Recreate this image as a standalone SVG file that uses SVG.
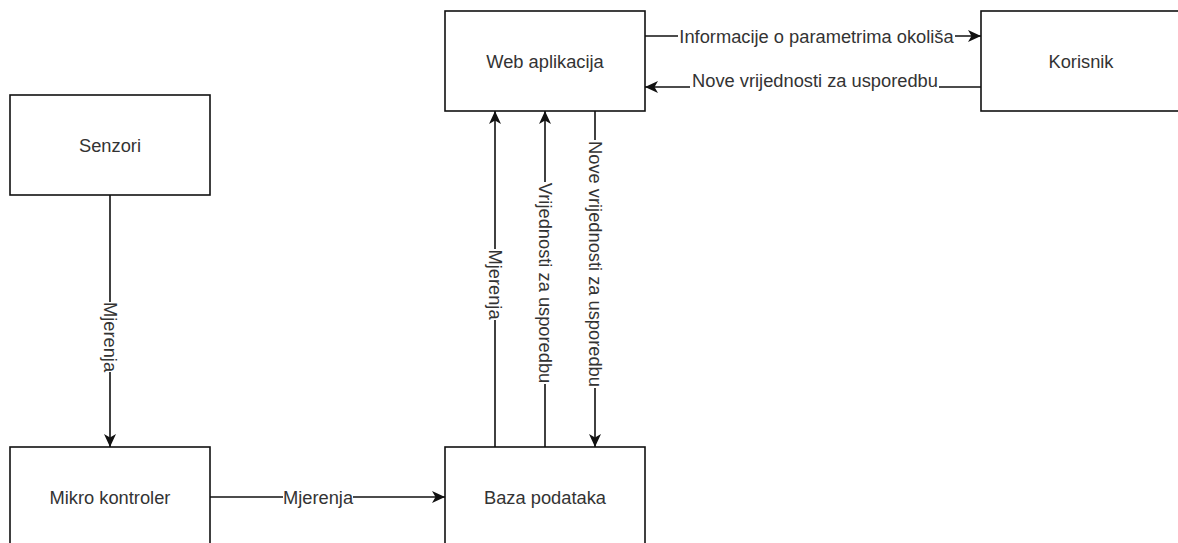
<svg xmlns="http://www.w3.org/2000/svg" width="1178" height="543" viewBox="0 0 1178 543">
  <style>
    .box { fill: #ffffff; stroke: #111111; stroke-width: 1.6; }
    .lbl { font-family: "Liberation Sans", Arial, sans-serif; font-size: 18.3px; fill: #333333; text-anchor: middle; dominant-baseline: central; }
    .edge { fill: none; stroke: #111111; stroke-width: 1.6; }
    .bg { fill: #ffffff; stroke: none; }
  </style>
  <defs>
    <marker id="arr" markerUnits="userSpaceOnUse" markerWidth="14" markerHeight="12" viewBox="0 0 14 12" refX="13" refY="6" orient="auto">
      <path d="M0,0 L13,6 L0,12 L3.5,6 Z" fill="#111111"/>
    </marker>
  </defs>
  <rect width="1178" height="543" fill="#ffffff"/>

  <g id="connectors">
    <!-- Senzori -> Mikro kontroler -->
    <path class="edge" d="M110,195 L110,447" marker-end="url(#arr)"/>
    <rect class="bg" x="101" y="302" width="18" height="70"/>
    <text class="lbl" transform="translate(110,337) rotate(90)" x="0" y="0">Mjerenja</text>

    <!-- Mikro kontroler -> Baza podataka -->
    <path class="edge" d="M210,497 L445,497" marker-end="url(#arr)"/>
    <rect class="bg" x="283" y="488" width="70" height="18"/>
    <text class="lbl" x="318" y="497">Mjerenja</text>

    <!-- Baza -> Web (Mjerenja) -->
    <path class="edge" d="M495,447 L495,111" marker-end="url(#arr)"/>
    <rect class="bg" x="486" y="249" width="18" height="71"/>
    <text class="lbl" transform="translate(495,284.5) rotate(90)" x="0" y="0">Mjerenja</text>

    <!-- Baza -> Web (Vrijednosti za usporedbu) -->
    <path class="edge" d="M545,447 L545,111" marker-end="url(#arr)"/>
    <rect class="bg" x="536" y="182" width="18" height="202"/>
    <text class="lbl" transform="translate(545,283) rotate(90)" x="0" y="0">Vrijednosti za usporedbu</text>

    <!-- Web -> Baza (Nove vrijednosti za usporedbu) -->
    <path class="edge" d="M595,111 L595,447" marker-end="url(#arr)"/>
    <rect class="bg" x="586" y="140" width="18" height="248"/>
    <text class="lbl" transform="translate(595,264) rotate(90)" x="0" y="0">Nove vrijednosti za usporedbu</text>

    <!-- Web -> Korisnik -->
    <path class="edge" d="M645,36 L981,36" marker-end="url(#arr)"/>
    <rect class="bg" x="678" y="27" width="277" height="18"/>
    <text class="lbl" x="816.5" y="36">Informacije o parametrima okoliša</text>

    <!-- Korisnik -> Web -->
    <path class="edge" d="M981,87 L645,87" marker-end="url(#arr)"/>
    <rect class="bg" x="690" y="70" width="249" height="18.5"/>
    <text class="lbl" x="815" y="80">Nove vrijednosti za usporedbu</text>
  </g>

  <g id="senzori">
    <rect class="box" x="10" y="95" width="200" height="100"/>
    <text class="lbl" x="110" y="145">Senzori</text>
  </g>
  <g id="mikro-kontroler">
    <rect class="box" x="10" y="447" width="200" height="100"/>
    <text class="lbl" x="110" y="497">Mikro kontroler</text>
  </g>
  <g id="baza-podataka">
    <rect class="box" x="445" y="447" width="200" height="100"/>
    <text class="lbl" x="545" y="497">Baza podataka</text>
  </g>
  <g id="web-aplikacija">
    <rect class="box" x="445" y="11" width="200" height="100"/>
    <text class="lbl" x="545" y="61">Web aplikacija</text>
  </g>
  <g id="korisnik">
    <rect class="box" x="981" y="11" width="200" height="100"/>
    <text class="lbl" x="1081" y="61">Korisnik</text>
  </g>
</svg>
